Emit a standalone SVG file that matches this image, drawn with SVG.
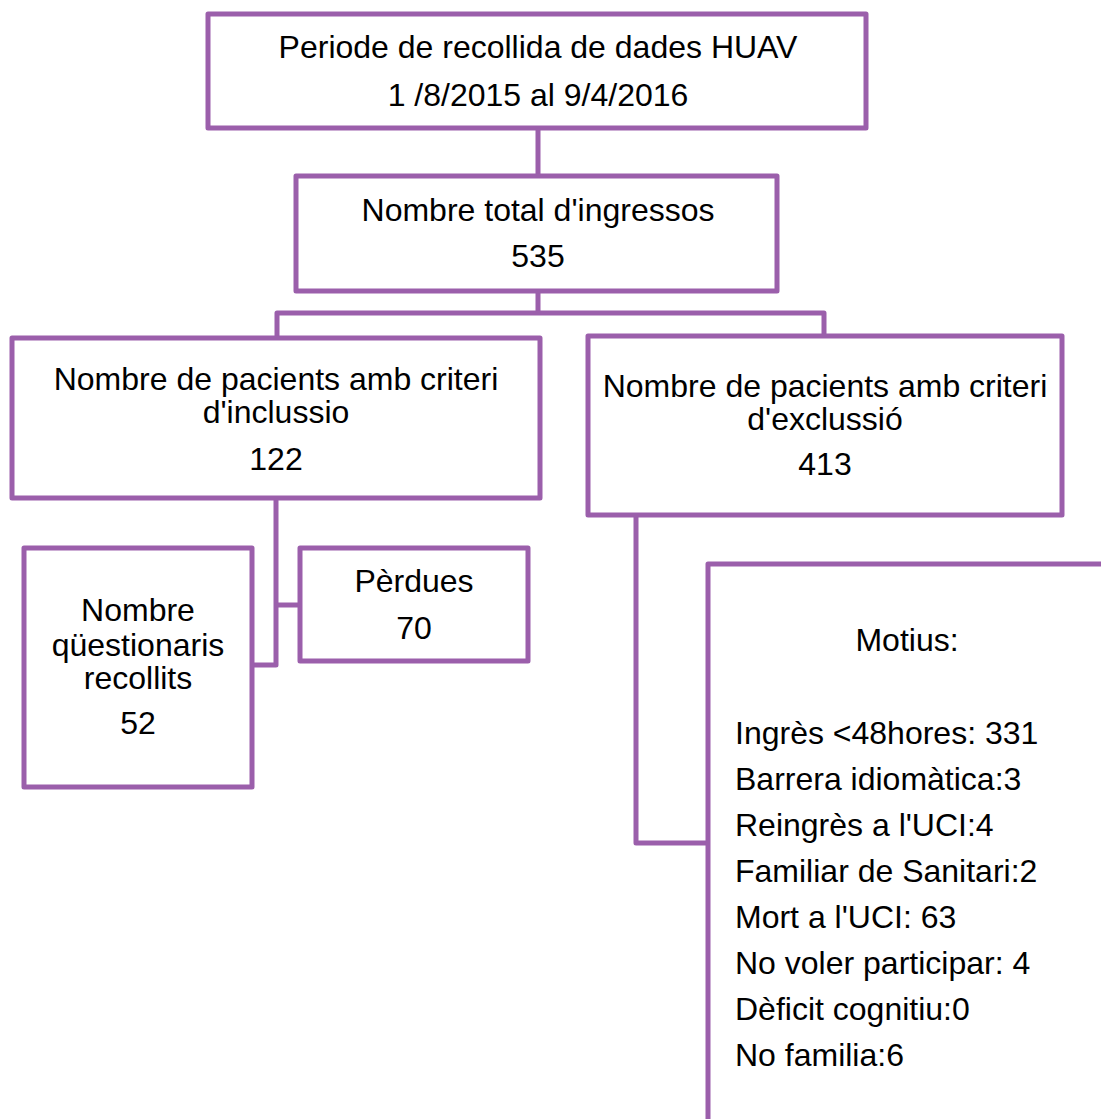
<svg xmlns="http://www.w3.org/2000/svg" width="1101" height="1119" viewBox="0 0 1101 1119">
  <style>
    .box { fill: #ffffff; stroke: #9b5fab; stroke-width: 5; stroke-linejoin: round; }
    .link { fill: none; stroke: #9b5fab; stroke-width: 5; stroke-linejoin: round; }
    text { font-family: "Liberation Sans", Arial, sans-serif; font-size: 32px; fill: #000000; }
    .c { text-anchor: middle; }
  </style>
  <rect width="1101" height="1119" fill="#ffffff"/>

  <!-- connectors -->
  <g id="connectors">
    <path class="link" d="M538,128 V313"/>
    <path class="link" d="M277,338 V313 H824 V336"/>
    <path class="link" d="M276,498 V665 H252"/>
    <path class="link" d="M276,605 H300"/>
    <path class="link" d="M636,515 V843 H708"/>
  </g>

  <g id="period">
    <rect class="box" x="208" y="14" width="658" height="114"/>
    <text class="c" x="538" y="58">Periode de recollida de dades HUAV</text>
    <text class="c" x="538" y="106">1 /8/2015 al 9/4/2016</text>
  </g>

  <g id="total">
    <rect class="box" x="296" y="176" width="481" height="115"/>
    <text class="c" x="538" y="221">Nombre total d'ingressos</text>
    <text class="c" x="538" y="267">535</text>
  </g>

  <g id="inclusion">
    <rect class="box" x="12" y="338" width="528" height="160"/>
    <text class="c" x="276" y="390">Nombre de pacients amb criteri</text>
    <text class="c" x="276" y="423">d'inclussio</text>
    <text class="c" x="276" y="470">122</text>
  </g>

  <g id="exclusion">
    <rect class="box" x="588" y="336" width="474" height="179"/>
    <text class="c" x="825" y="397">Nombre de pacients amb criteri</text>
    <text class="c" x="825" y="430">d'exclussió</text>
    <text class="c" x="825" y="475">413</text>
  </g>

  <g id="questionnaires">
    <rect class="box" x="24" y="548" width="228" height="239"/>
    <text class="c" x="138" y="621">Nombre</text>
    <text class="c" x="138" y="656">qüestionaris</text>
    <text class="c" x="138" y="689">recollits</text>
    <text class="c" x="138" y="734">52</text>
  </g>

  <g id="losses">
    <rect class="box" x="300" y="548" width="228" height="113"/>
    <text class="c" x="414" y="592">Pèrdues</text>
    <text class="c" x="414" y="639">70</text>
  </g>

  <g id="reasons">
    <rect class="box" x="708" y="564" width="500" height="700"/>
    <text class="c" x="907" y="651">Motius:</text>
    <text x="735" y="744">Ingrès &lt;48hores: 331</text>
    <text x="735" y="790">Barrera idiomàtica:3</text>
    <text x="735" y="836">Reingrès a l'UCI:4</text>
    <text x="735" y="882">Familiar de Sanitari:2</text>
    <text x="735" y="928">Mort a l'UCI: 63</text>
    <text x="735" y="974">No voler participar: 4</text>
    <text x="735" y="1020">Dèficit cognitiu:0</text>
    <text x="735" y="1066">No familia:6</text>
  </g>
</svg>
